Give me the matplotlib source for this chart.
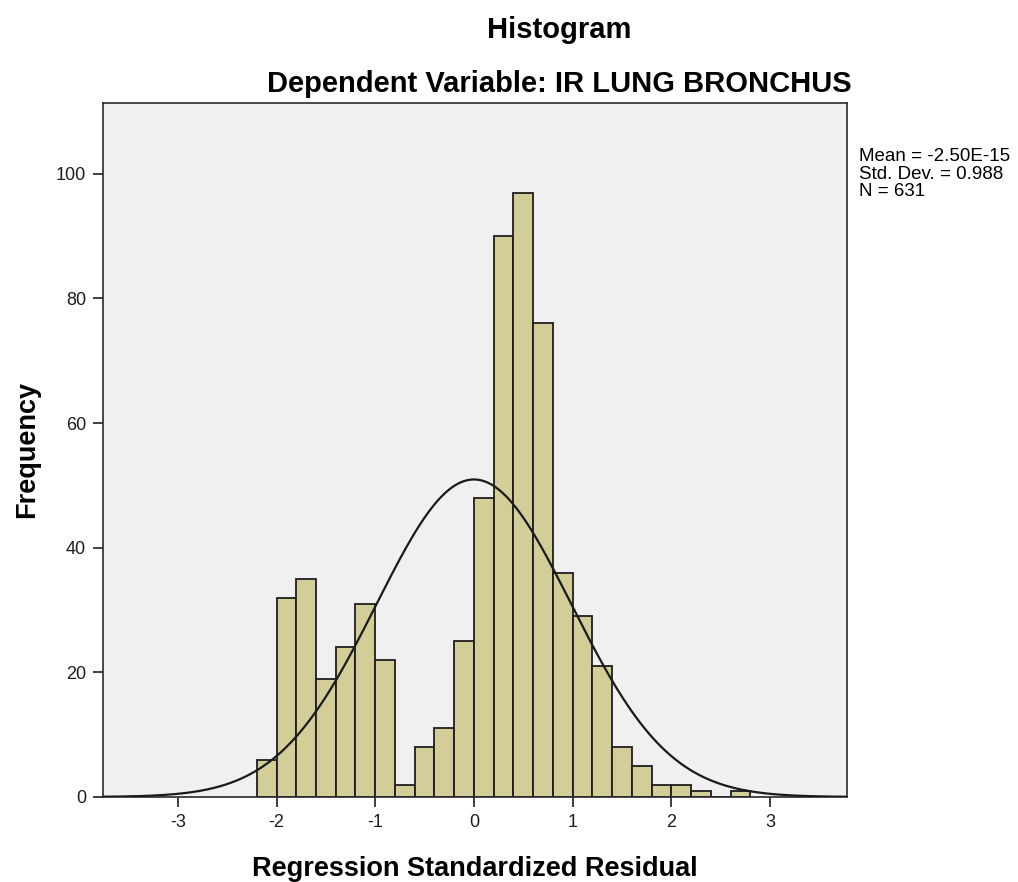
import numpy as np
import matplotlib
matplotlib.use("Agg")
import matplotlib.pyplot as plt

plt.rcParams['font.family'] = ['Liberation Sans', 'DejaVu Sans']
plt.rcParams['axes.unicode_minus'] = False

# histogram bins (width 0.2) starting at -2.2
bin_start = -2.2
bin_width = 0.2
counts = [6, 32, 35, 19, 24, 31, 22, 2, 8, 11, 25, 48, 90, 97, 76,
          36, 29, 21, 8, 5, 2, 2, 1, 0, 1]

mean = -2.50e-15
std_dev = 0.988
n_obs = 631

x_ticks = [-3, -2, -1, 0, 1, 2, 3]
y_ticks = [0, 20, 40, 60, 80, 100]

fig = plt.figure(figsize=(10.18, 8.82), dpi=100)
ax = fig.add_axes([0.101, 0.0964, 0.731, 0.787])
ax.set_facecolor('#f0f0f0')

edges = bin_start + bin_width * np.arange(len(counts))
ax.bar(edges, counts, width=bin_width, align='edge',
       color='#d3ce97', edgecolor='#1e1e1e', linewidth=1.3, zorder=2)

# fitted normal curve
xs = np.linspace(-3.8, 3.8, 500)
ys = n_obs * bin_width / (std_dev * np.sqrt(2 * np.pi)) * np.exp(-0.5 * ((xs - mean) / std_dev) ** 2)
ax.plot(xs, ys, color='#1a1a1a', linewidth=1.6, zorder=3)

ax.set_xlim(-3.76, 3.78)
ax.set_ylim(0, 111.4)
ax.set_xticks(x_ticks)
ax.set_yticks(y_ticks)
ax.tick_params(direction='out', length=7, width=1.2, labelsize=13, colors='#1e1e1e', pad=5)
for s in ax.spines.values():
    s.set_color('#2a2a2a')
    s.set_linewidth(1.2)

ax.set_xlabel('Regression Standardized Residual', fontsize=19.5, fontweight='bold', labelpad=18)
ax.set_ylabel('Frequency', fontsize=19.5, fontweight='bold', labelpad=11)

fig.text(0.549, 0.966, 'Histogram', ha='center', va='center', fontsize=21, fontweight='bold')
fig.text(0.549, 0.905, 'Dependent Variable: IR LUNG BRONCHUS', ha='center', va='center',
         fontsize=21, fontweight='bold')

stats = 'Mean = %.2E\nStd. Dev. = %.3f\nN = %d' % (mean, std_dev, n_obs)
fig.text(0.844, 0.832, stats, ha='left', va='top', fontsize=13.5, linespacing=1.05)

fig.savefig('out.png', dpi=100, facecolor='white')
